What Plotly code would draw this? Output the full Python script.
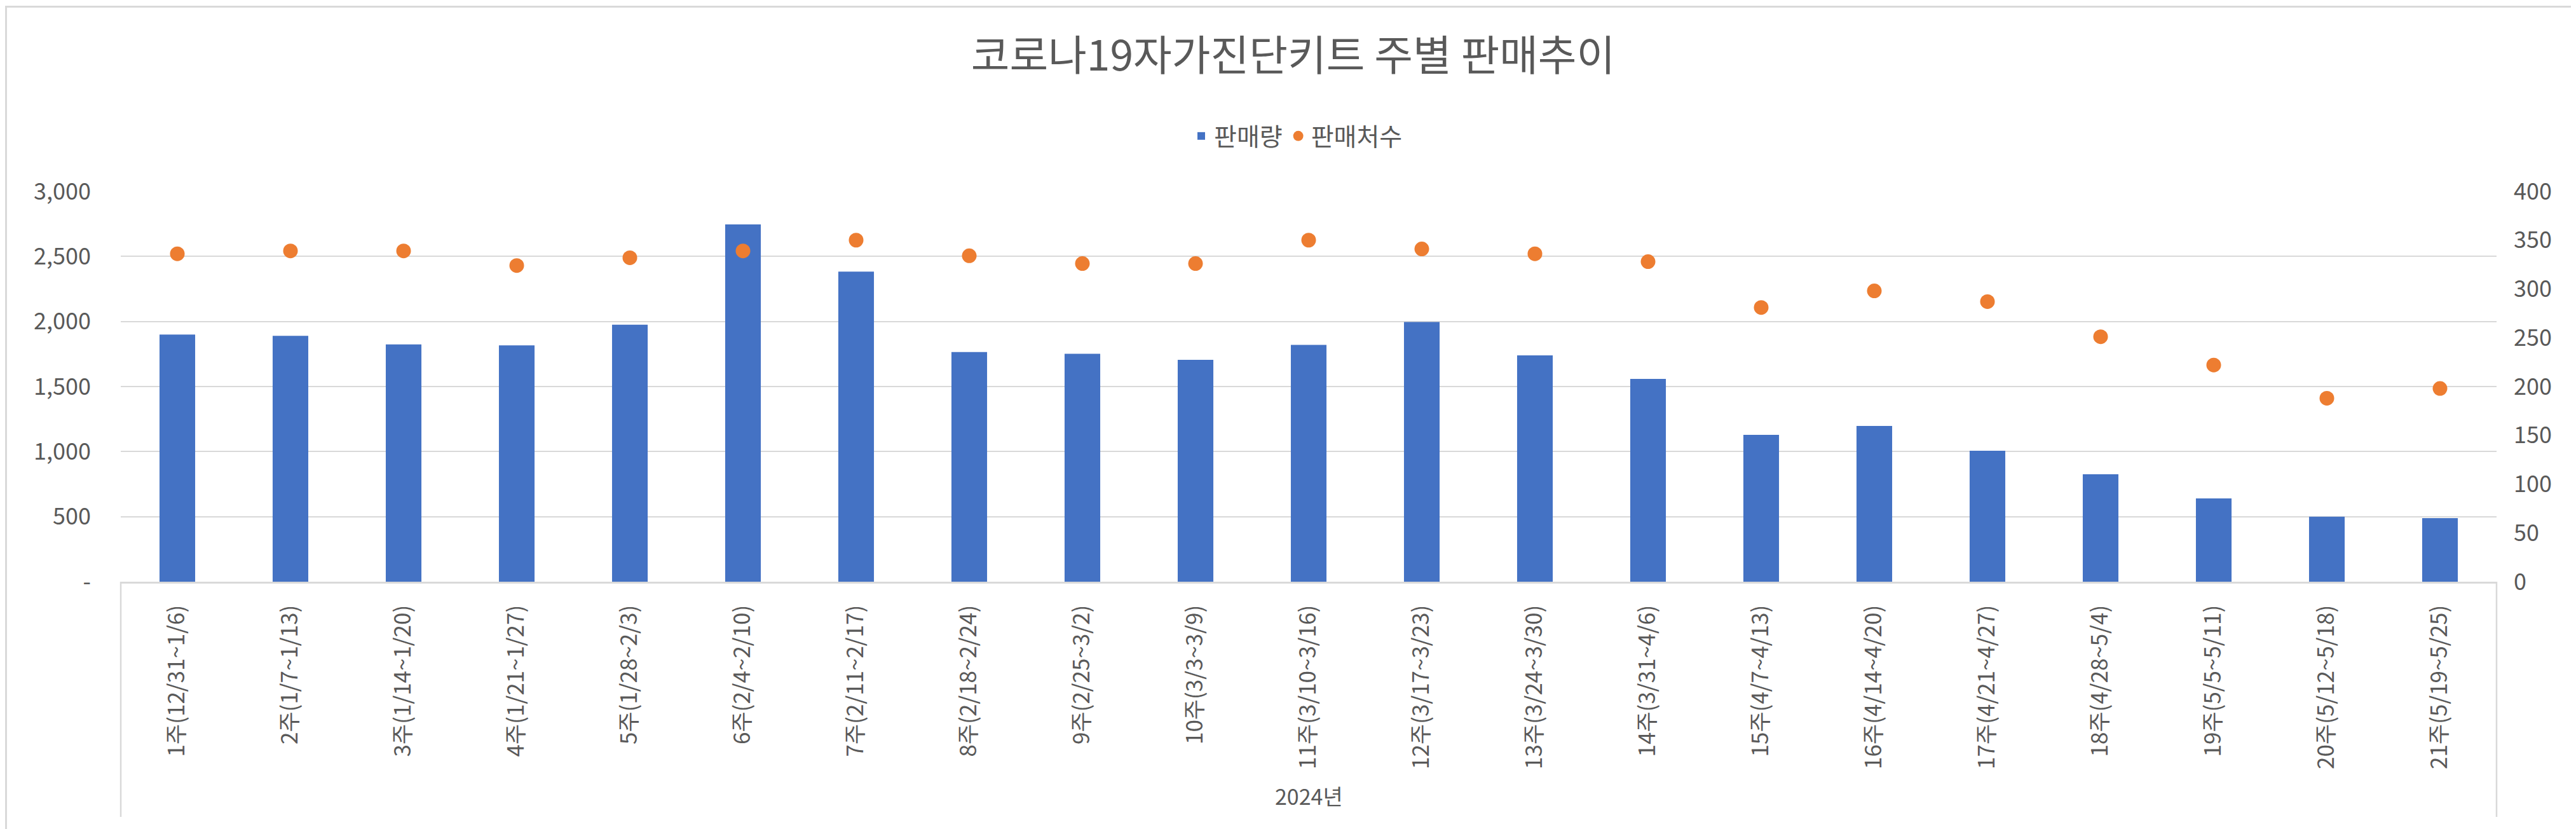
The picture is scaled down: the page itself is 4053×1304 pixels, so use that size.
import plotly.graph_objects as go

# ---- data ----
categories = [
    "1주(12/31~1/6)", "2주(1/7~1/13)", "3주(1/14~1/20)", "4주(1/21~1/27)",
    "5주(1/28~2/3)", "6주(2/4~2/10)", "7주(2/11~2/17)", "8주(2/18~2/24)",
    "9주(2/25~3/2)", "10주(3/3~3/9)", "11주(3/10~3/16)", "12주(3/17~3/23)",
    "13주(3/24~3/30)", "14주(3/31~4/6)", "15주(4/7~4/13)", "16주(4/14~4/20)",
    "17주(4/21~4/27)", "18주(4/28~5/4)", "19주(5/5~5/11)", "20주(5/12~5/18)",
    "21주(5/19~5/25)",
]
sales_qty = [1900, 1890, 1824, 1816, 1975, 2746, 2383, 1765, 1752, 1705, 1820,
             1996, 1739, 1559, 1129, 1197, 1006, 826, 640, 500, 489]
store_count = [336, 339, 339, 324, 332, 339, 350, 334, 326, 326, 350,
               341, 336, 328, 281, 298, 287, 251, 222, 188, 198]

left_tickvals = [0, 500, 1000, 1500, 2000, 2500, 3000]
left_ticktext = ["-", "500", "1,000", "1,500", "2,000", "2,500", "3,000"]
right_tickvals = [0, 50, 100, 150, 200, 250, 300, 350, 400]
right_ticktext = ["0", "50", "100", "150", "200", "250", "300", "350", "400"]

title_text = "코로나19자가진단키트 주별 판매추이"
group_label = "2024년"
series_names = ["판매량", "판매처수"]

# ---- style ----
W, H = 4053, 1304
ML, MR, MT, MB = 182, 133, 292.5, 396.5
FONT = "Noto Sans CJK KR, Noto Sans, sans-serif"
TXT = "#595959"
GRID = "#D9D9D9"
BLUE = "#4472C4"
ORANGE = "#ED7D31"

plot_w = W - ML - MR
plot_h = H - MT - MB

def px_to_paper_x(px):
    return (px - ML) / plot_w

def py_to_paper_y(py):
    return (H - MB - py) / plot_h

fig = go.Figure()
fig.add_trace(go.Bar(
    x=categories, y=sales_qty, name=series_names[0],
    marker=dict(color=BLUE, line=dict(width=0)), yaxis="y",
))
fig.add_trace(go.Scatter(
    x=categories, y=store_count, name=series_names[1], mode="markers",
    marker=dict(color=ORANGE, size=23, line=dict(width=0)), yaxis="y2",
))

shapes = [
    # chart-area border
    dict(type="rect", xref="paper", yref="paper",
         x0=px_to_paper_x(1.5), x1=px_to_paper_x(W - 1.5),
         y0=py_to_paper_y(H - 1.5), y1=py_to_paper_y(1.5),
         line=dict(color=GRID, width=3), fillcolor="rgba(0,0,0,0)", layer="below"),
    # multi-level category axis side lines
    dict(type="line", xref="paper", yref="paper", x0=0, x1=0,
         y0=0, y1=py_to_paper_y(1278), line=dict(color=GRID, width=2.5)),
    dict(type="line", xref="paper", yref="paper", x0=1, x1=1,
         y0=0, y1=py_to_paper_y(1278), line=dict(color=GRID, width=2.5)),
]

fig.update_layout(
    width=W, height=H,
    margin=dict(l=ML, r=MR, t=MT, b=MB, autoexpand=False),
    paper_bgcolor="white", plot_bgcolor="white",
    font=dict(family=FONT, color=TXT, size=35),
    title=dict(text=title_text, x=0.5, xref="container", xanchor="center",
               y=1 - 80 / H, yref="container", yanchor="middle",
               font=dict(size=66, color=TXT, family=FONT)),
    legend=dict(orientation="h", xref="container", yref="container",
                x=2033 / W, xanchor="center", y=1 - 206 / H, yanchor="middle",
                font=dict(size=39, color=TXT), itemwidth=30,
                bgcolor="rgba(0,0,0,0)"),
    bargap=0.685,
    showlegend=True,
    xaxis=dict(type="category", tickangle=-90, showline=True, linecolor=GRID,
               linewidth=2.5, showgrid=False, ticks="", ticklabelstandoff=20,
               tickfont=dict(size=35, color=TXT), zeroline=False,
               range=[-0.5, len(categories) - 0.5]),
    yaxis=dict(range=[0, 3000], tickvals=left_tickvals, ticktext=left_ticktext,
               showgrid=True, gridcolor=GRID, gridwidth=2, zeroline=False,
               showline=False, ticks="", ticklabelstandoff=46,
               tickfont=dict(size=36, color=TXT)),
    yaxis2=dict(range=[0, 400], tickvals=right_tickvals, ticktext=right_ticktext,
                overlaying="y", side="right", showgrid=False, zeroline=False,
                showline=False, ticks="", ticklabelstandoff=26,
                tickfont=dict(size=36, color=TXT)),
    shapes=shapes,
    annotations=[dict(text=group_label, xref="paper", yref="paper",
                      x=0.5, y=py_to_paper_y(1245), xanchor="center",
                      yanchor="middle", showarrow=False,
                      font=dict(size=34, color=TXT))],
)

fig.write_html("out.html")
